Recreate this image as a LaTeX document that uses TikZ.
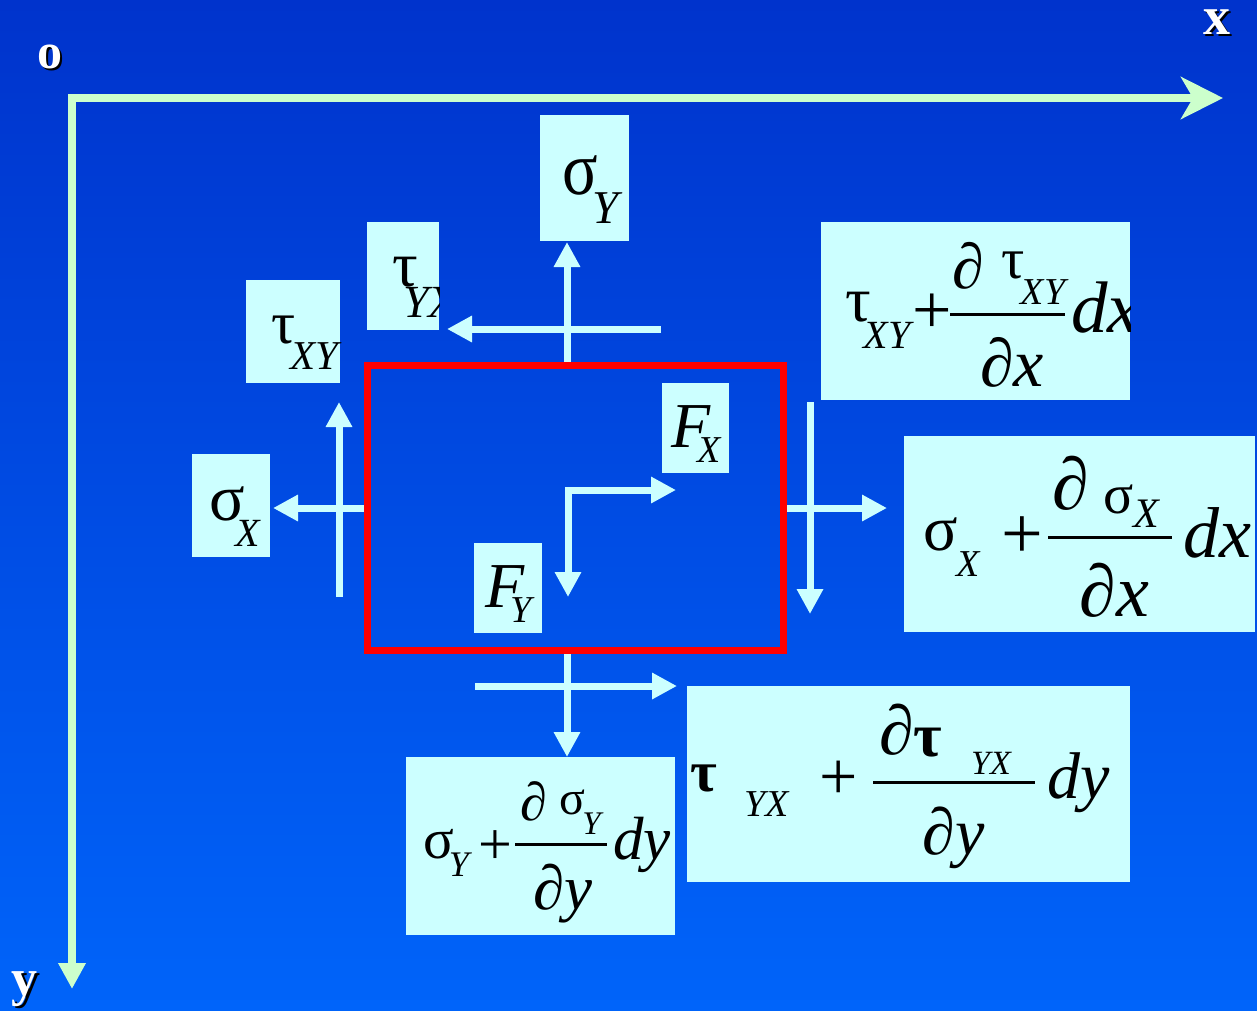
\documentclass[tikz,border=0pt]{standalone}
\usepackage{fontspec}
\usepackage{graphicx}
\setmainfont{Liberation Serif}
\usetikzlibrary{arrows.meta}
\definecolor{bgtop}{RGB}{0,51,204}
\definecolor{bgbot}{RGB}{0,100,250}
\definecolor{axisg}{RGB}{204,255,204}
\definecolor{cyanl}{RGB}{204,255,255}
\newcommand\fs[1]{\fontsize{#1}{#1}\selectfont}
\begin{document}
\begin{tikzpicture}[x=1pt,y=-1pt,
  cbox/.style={fill=cyanl, draw=none, inner sep=0pt, outer sep=0pt},
  t/.style={inner sep=0pt, outer sep=0pt, text=black, anchor=center},
  lbl/.style={inner sep=0pt, outer sep=0pt, text=white, anchor=center},
  lblsh/.style={inner sep=0pt, outer sep=0pt, text=black, anchor=center},
  force/.style={draw=cyanl, line width=7pt, -{Triangle[length=25pt,width=25pt]}},
  fracline/.style={draw=black, line width=3pt},
  axis/.style={draw=axisg, line width=8pt, line join=miter,
    arrows={Triangle[length=26pt,width=26pt]-Stealth[length=42pt,width=42pt,inset=12pt]}}]
\useasboundingbox (0,0) rectangle (1257,1010);
\shade[top color=bgtop, bottom color=bgbot] (0,0) rectangle (1257,1010);

% axes
\coordinate (O) at (72,98);
\coordinate (xtip) at (1223,98);
\coordinate (ytip) at (72,989);
\draw[axis] (ytip) -- (O) -- (xtip);
\node[lblsh, font={\fs{50}\bfseries}] (osh) at (52,59) {o};
\node[lbl, font={\fs{50}\bfseries}] (olab) at (50,57) {o};
\node[lblsh, font={\fs{54}\bfseries}] (xsh) at (1218.5,24.5) {x};
\node[lbl, font={\fs{54}\bfseries}] (xlab) at (1216.5,22.5) {x};
\node[lblsh, font={\fs{52}\bfseries}] (ysh) at (27,991.5) {y};
\node[lbl, font={\fs{52}\bfseries}] (ylab) at (25,989.5) {y};

% force arrows
\coordinate (a1s) at (567,363); \coordinate (a1e) at (567,242);
\coordinate (a2s) at (661,329); \coordinate (a2e) at (447,329);
\coordinate (a3s) at (364,508); \coordinate (a3e) at (273,508);
\coordinate (a4s) at (339,597); \coordinate (a4e) at (339,402);
\coordinate (a5s) at (786,508); \coordinate (a5e) at (887,508);
\coordinate (a6s) at (810,402); \coordinate (a6e) at (810,614);
\coordinate (a7s) at (567,653); \coordinate (a7e) at (567,757);
\coordinate (a8s) at (475,686); \coordinate (a8e) at (677,686);
\coordinate (c0) at (568,490); \coordinate (cfx) at (676,490); \coordinate (cfy) at (568,597);
\draw[force] (a1s) -- (a1e);
\draw[force] (a2s) -- (a2e);
\draw[force] (a3s) -- (a3e);
\draw[force] (a4s) -- (a4e);
\draw[force] (a5s) -- (a5e);
\draw[force] (a6s) -- (a6e);
\draw[force] (a7s) -- (a7e);
\draw[force] (a8s) -- (a8e);
\draw[force, line join=miter, arrows={Triangle[length=25pt,width=25pt]-Triangle[length=25pt,width=25pt]}] (cfy) -- (c0) -- (cfx);

% element
\node[draw=red, line width=7pt, minimum width=416pt, minimum height=285pt, inner sep=0pt] (elem) at (575,507.5) {};

% boxes
\node[cbox, minimum width=89pt, minimum height=126pt] (b1) at (584.5,178) {};
\node[cbox, minimum width=72pt, minimum height=108pt] (b2) at (403,276) {};
\node[cbox, minimum width=94pt, minimum height=103pt] (b3) at (293,331.5) {};
\node[cbox, minimum width=309pt, minimum height=178pt] (b4) at (975.5,311) {};
\node[cbox, minimum width=78pt, minimum height=103pt] (b5) at (231,505.5) {};
\node[cbox, minimum width=67pt, minimum height=90pt] (b6) at (695.5,428) {};
\node[cbox, minimum width=68pt, minimum height=90pt] (b7) at (508,588) {};
\node[cbox, minimum width=351pt, minimum height=196pt] (b8) at (1079.5,534) {};
\node[cbox, minimum width=269pt, minimum height=178pt] (b9) at (540.5,846) {};
\node[cbox, minimum width=443pt, minimum height=196pt] (b10) at (908.5,784) {};

% box 1
\node[t, font={\fs{66}}] (b1s) at (580,175.5) {\scalebox{1}[1.15]{σ}};
\node[t, font={\fs{47}\itshape}] (b1y) at (606,208) {Y};
% box 2
\begin{scope}
\clip (b2.south west) rectangle (b2.north east);
\node[t, font={\fs{64}}] (b2t) at (405.5,272.5) {τ};
\node[t, font={\fs{46}\itshape}] (b2s) at (430,302) {YX};
\end{scope}
% box 3
\node[t, font={\fs{60}}] (b3t) at (283.5,330) {τ};
\node[t, font={\fs{41}\itshape}] (b3s) at (314,356.5) {XY};
% box 4
\begin{scope}
\clip (b4.south west) rectangle (b4.north east);
\node[t, font={\fs{64}}] (b4t) at (858.5,307.5) {τ};
\node[t, font={\fs{40}\itshape}] (b4s) at (887,335) {XY};
\node[t, font={\fs{70}}] (b4p) at (932.5,313.5) {+};
\coordinate (b4la) at (950,314); \coordinate (b4lb) at (1065,314);
\draw[fracline] (b4la) -- (b4lb);
\node[t, font={\fs{64}\itshape}] (b4n1) at (968.5,265.5) {∂};
\node[t, font={\fs{58}}] (b4n2) at (1013.5,265) {τ};
\node[t, font={\fs{38}\itshape}] (b4n3) at (1043,292.5) {XY};
\node[t, font={\fs{68}\itshape}] (b4d) at (1012,362.5) {∂x};
\node[t, font={\fs{73}\itshape}, anchor=west] (b4dx) at (1071,308) {dx};
\end{scope}
% box 5
\node[t, font={\fs{66}}] (b5s) at (227.5,504) {σ};
\node[t, font={\fs{40}\itshape}] (b5x) at (248,533) {X};
% box 6
\node[t, font={\fs{64}\itshape}] (b6f) at (691,426.5) {F};
\node[t, font={\fs{38}\itshape}] (b6x) at (709,450) {X};
% box 7
\node[t, font={\fs{64}\itshape}] (b7f) at (505,587) {F};
\node[t, font={\fs{38}\itshape}] (b7y) at (521,610) {Y};
% box 8
\node[t, font={\fs{64}}] (b8s) at (941,534) {σ};
\node[t, font={\fs{38}\itshape}] (b8x) at (968,564.5) {X};
\node[t, font={\fs{74}}] (b8p) at (1022.5,537.5) {+};
\coordinate (b8la) at (1048,537); \coordinate (b8lb) at (1172,537);
\draw[fracline] (b8la) -- (b8lb);
\node[t, font={\fs{74}\itshape}] (b8n1) at (1071,483.5) {∂};
\node[t, font={\fs{56}}] (b8n2) at (1118.5,499) {σ};
\node[t, font={\fs{42}\itshape}] (b8n3) at (1146,514) {X};
\node[t, font={\fs{74}\itshape}] (b8d) at (1114.5,590) {∂x};
\node[t, font={\fs{72}\itshape}] (b8dx) at (1217.5,532.5) {dx};
% box 9
\begin{scope}
\clip (b9.south west) rectangle (b9.north east);
\node[t, font={\fs{57}}] (b9s) at (438.5,844.5) {σ};
\node[t, font={\fs{36}\itshape}] (b9y) at (459,865) {Y};
\node[t, font={\fs{60}}] (b9p) at (495,847.5) {+};
\coordinate (b9la) at (515,844); \coordinate (b9lb) at (607,844);
\draw[fracline] (b9la) -- (b9lb);
\node[t, font={\fs{54}\itshape}] (b9n1) at (533.5,801) {∂};
\node[t, font={\fs{48}}] (b9n2) at (572.5,802) {σ};
\node[t, font={\fs{33}\itshape}] (b9n3) at (591.5,824) {Y};
\node[t, font={\fs{63}\itshape}] (b9d) at (563,894) {∂y};
\node[t, font={\fs{61}\itshape}, anchor=west] (b9dy) at (613,845) {dy};
\end{scope}
% box 10
\node[t, font={\fs{58}\bfseries}] (b10t) at (703.5,778.5) {τ};
\node[t, font={\fs{38}\itshape}] (b10s) at (767,804.5) {YX};
\node[t, font={\fs{68}}] (b10p) at (838.5,780.5) {+};
\coordinate (b10la) at (873,782); \coordinate (b10lb) at (1035,782);
\draw[fracline] (b10la) -- (b10lb);
\node[t, font={\fs{70}\itshape}] (b10n1) at (896.5,730) {∂};
\node[t, font={\fs{62}\bfseries}] (b10n2) at (928,742.5) {τ};
\node[t, font={\fs{34}\itshape}] (b10n3) at (991,763) {YX};
\node[t, font={\fs{66}\itshape}] (b10d) at (953.5,837.5) {∂y};
\node[t, font={\fs{66}\itshape}] (b10dy) at (1079,782.5) {dy};
\end{tikzpicture}
\end{document}
